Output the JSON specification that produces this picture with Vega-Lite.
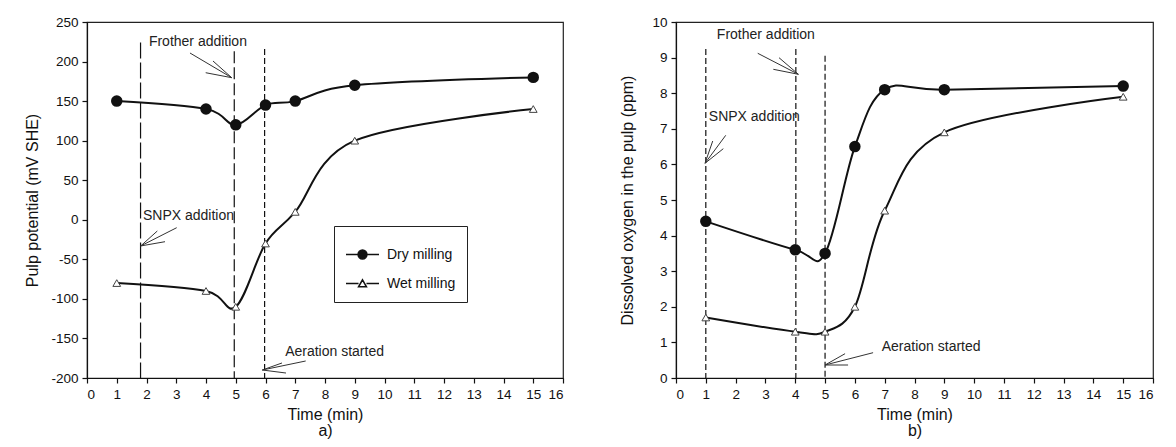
{
  "$schema": "https://vega.github.io/schema/vega-lite/v6.json",
  "background": "white",
  "padding": {"left": 24, "top": 14, "right": 5, "bottom": 5},
  "spacing": 54,
  "datasets": {
    "a": [
      {"series": "Dry milling", "t": 1, "v": 150},
      {"series": "Dry milling", "t": 4, "v": 140},
      {"series": "Dry milling", "t": 5, "v": 120},
      {"series": "Dry milling", "t": 6, "v": 145},
      {"series": "Dry milling", "t": 7, "v": 150},
      {"series": "Dry milling", "t": 9, "v": 170},
      {"series": "Dry milling", "t": 15, "v": 180},
      {"series": "Wet milling", "t": 1, "v": -80},
      {"series": "Wet milling", "t": 4, "v": -90},
      {"series": "Wet milling", "t": 5, "v": -110},
      {"series": "Wet milling", "t": 6, "v": -30},
      {"series": "Wet milling", "t": 7, "v": 10},
      {"series": "Wet milling", "t": 9, "v": 100},
      {"series": "Wet milling", "t": 15, "v": 140}
    ],
    "b": [
      {"series": "Dry milling", "t": 1, "v": 4.4},
      {"series": "Dry milling", "t": 4, "v": 3.6},
      {"series": "Dry milling", "t": 5, "v": 3.5},
      {"series": "Dry milling", "t": 6, "v": 6.5},
      {"series": "Dry milling", "t": 7, "v": 8.1},
      {"series": "Dry milling", "t": 9, "v": 8.1},
      {"series": "Dry milling", "t": 15, "v": 8.2},
      {"series": "Wet milling", "t": 1, "v": 1.7},
      {"series": "Wet milling", "t": 4, "v": 1.3},
      {"series": "Wet milling", "t": 5, "v": 1.3},
      {"series": "Wet milling", "t": 6, "v": 2.0},
      {"series": "Wet milling", "t": 7, "v": 4.7},
      {"series": "Wet milling", "t": 9, "v": 6.9},
      {"series": "Wet milling", "t": 15, "v": 7.9}
    ],
    "vA": [
      {"id": "l1", "t": 1.8, "v": 224},
      {"id": "l2", "t": 4.95, "v": 213},
      {"id": "l3", "t": 5.97, "v": 216}
    ],
    "vB": [
      {"id": "l1", "t": 1, "v": 9.24},
      {"id": "l2", "t": 4.02, "v": 9.24},
      {"id": "l3", "t": 5, "v": 9.05}
    ],
    "arrA": [
      {"t": 3.462, "v": 210.8, "t2": 4.864, "v2": 179.6},
      {"t": 3.99, "v": 185.9, "t2": 4.864, "v2": 179.6},
      {"t": 4.235, "v": 200.7, "t2": 4.864, "v2": 179.6},
      {"t": 3.015, "v": -10, "t2": 1.805, "v2": -33.1},
      {"t": 2.363, "v": -14.2, "t2": 1.805, "v2": -33.1},
      {"t": 2.622, "v": -27.7, "t2": 1.805, "v2": -33.1},
      {"t": 7.351, "v": -178.5, "t2": 5.893, "v2": -189.9},
      {"t": 6.689, "v": -193.7, "t2": 5.893, "v2": -189.9},
      {"t": 6.555, "v": -181, "t2": 5.893, "v2": -189.9}
    ],
    "arrB": [
      {"t": 2.742, "v": 9.121, "t2": 4.104, "v2": 8.531},
      {"t": 3.456, "v": 8.997, "t2": 4.104, "v2": 8.531},
      {"t": 3.265, "v": 8.671, "t2": 4.104, "v2": 8.531},
      {"t": 1.668, "v": 6.817, "t2": 0.973, "v2": 6.031},
      {"t": 1.232, "v": 6.657, "t2": 0.973, "v2": 6.031},
      {"t": 1.587, "v": 6.441, "t2": 0.973, "v2": 6.031},
      {"t": 6.611, "v": 0.711, "t2": 5.0, "v2": 0.365},
      {"t": 5.772, "v": 0.365, "t2": 5.0, "v2": 0.365},
      {"t": 5.671, "v": 0.683, "t2": 5.0, "v2": 0.365}
    ],
    "nA": [
      {"label": "Frother addition", "t": 2.08, "v": 225},
      {"label": "SNPX addition", "t": 1.88, "v": 5},
      {"label": "Aeration started", "t": 6.66, "v": -167}
    ],
    "nB": [
      {"label": "Frother addition", "t": 1.37, "v": 9.63},
      {"label": "SNPX addition", "t": 1.1, "v": 7.33},
      {"label": "Aeration started", "t": 6.9, "v": 0.88}
    ]
  },
  "config": {
    "font": "Liberation Sans",
    "view": {"stroke": "#222", "strokeWidth": 1.2},
    "axis": {
      "grid": false,
      "domainColor": "#111",
      "tickColor": "#111",
      "labelColor": "#111",
      "titleColor": "#111",
      "labelFont": "Liberation Sans",
      "titleFont": "Liberation Sans",
      "labelFontSize": 13.5,
      "titleFontSize": 16,
      "titleFontWeight": "normal",
      "tickSize": 5,
      "labelPadding": 4,
      "domainWidth": 1.2,
      "tickWidth": 1.2,
      "labelExpr": "'' + datum.value"
    },
    "legend": {
      "labelFont": "Liberation Sans",
      "labelFontSize": 14,
      "labelColor": "#111",
      "strokeColor": "#222",
      "fillColor": "white",
      "padding": 11,
      "rowPadding": 4,
      "labelOffset": 7,
      "symbolSize": 1089,
      "symbolStrokeWidth": 1.5,
      "symbolStrokeColor": "#111"
    }
  },
  "hconcat": [
    {
      "width": 476,
      "height": 356,
      "encoding": {
        "x": {"field": "t", "type": "quantitative", "scale": {"domain": [0, 16], "nice": false},
              "axis": {"values": [0,1,2,3,4,5,6,7,8,9,10,11,12,13,14,15,16], "title": ["Time (min)", "a)"], "titleLineHeight": 16, "titlePadding": 6}},
        "y": {"field": "v", "type": "quantitative", "scale": {"domain": [-200, 250], "nice": false},
              "axis": {"values": [-200,-150,-100,-50,0,50,100,150,200,250], "title": "Pulp potential (mV SHE)", "titlePadding": 10}}
      },
      "layer": [
        {
          "data": {"name": "vA"},
          "mark": {"type": "rule", "color": "#111", "strokeWidth": 1.2},
          "encoding": {
            "y2": {"datum": -200},
            "strokeDash": {"field": "id", "type": "nominal", "scale": {"range": [[16, 4], [12, 4], [6, 3]]}, "legend": null}
          }
        },
        {
          "data": {"name": "a"},
          "mark": {"type": "line", "interpolate": "cardinal", "color": "#111", "strokeWidth": 2},
          "encoding": {"detail": {"field": "series", "type": "nominal"}}
        },
        {
          "data": {"name": "a"},
          "transform": [{"filter": "datum.series === 'Dry milling'"}],
          "mark": {"type": "point", "shape": "circle", "filled": true, "fill": "#111", "stroke": "#111", "size": 90, "opacity": 1}
        },
        {
          "data": {"name": "a"},
          "transform": [{"filter": "datum.series === 'Wet milling'"}],
          "mark": {"type": "point", "shape": "triangle-up", "filled": true, "fill": "white", "stroke": "#444", "strokeWidth": 1, "size": 60, "opacity": 1}
        },
        {
          "data": {"name": "arrA"},
          "mark": {"type": "rule", "color": "#333", "strokeWidth": 1},
          "encoding": {"x2": {"field": "t2"}, "y2": {"field": "v2"}}
        },
        {
          "data": {"name": "nA"},
          "mark": {"type": "text", "align": "left", "baseline": "middle", "fontSize": 14, "font": "Liberation Sans", "color": "#222"},
          "encoding": {"text": {"field": "label", "type": "nominal"}}
        },
        {
          "data": {"name": "a"},
          "transform": [{"filter": "false"}],
          "mark": {"type": "point", "filled": true, "strokeWidth": 1.5, "opacity": 1},
          "encoding": {
            "shape": {"field": "series", "type": "nominal",
                      "scale": {"domain": ["Dry milling", "Wet milling"], "range": ["M-1,0L1,0M0.27,0A0.27,0.27,0,1,1,-0.27,0A0.27,0.27,0,1,1,0.27,0Z", "M-1,0L-0.24,0M0.24,0L1,0M0,-0.22L0.24,0.2L-0.24,0.2Z"]},
                      "legend": {"title": null, "orient": "none", "legendX": 247, "legendY": 204}},
            "fill": {"field": "series", "type": "nominal",
                     "scale": {"domain": ["Dry milling", "Wet milling"], "range": ["#111", "white"]},
                     "legend": {"title": null, "orient": "none", "legendX": 247, "legendY": 204}},
            "stroke": {"field": "series", "type": "nominal",
                     "scale": {"domain": ["Dry milling", "Wet milling"], "range": ["#111", "#111"]},
                     "legend": {"title": null, "orient": "none", "legendX": 247, "legendY": 204}}
          }
        }
      ]
    },
    {
      "width": 477,
      "height": 356,
      "encoding": {
        "x": {"field": "t", "type": "quantitative", "scale": {"domain": [0, 16], "nice": false},
              "axis": {"values": [0,1,2,3,4,5,6,7,8,9,10,11,12,13,14,15,16], "title": ["Time (min)", "b)"], "titleLineHeight": 16, "titlePadding": 6}},
        "y": {"field": "v", "type": "quantitative", "scale": {"domain": [0, 10], "nice": false},
              "axis": {"values": [0,1,2,3,4,5,6,7,8,9,10], "title": "Dissolved oxygen in the pulp (ppm)", "titlePadding": 16}}
      },
      "layer": [
        {
          "data": {"name": "vB"},
          "mark": {"type": "rule", "color": "#111", "strokeWidth": 1.2, "strokeDash": [6, 3]},
          "encoding": {"y2": {"datum": 0}}
        },
        {
          "data": {"name": "b"},
          "mark": {"type": "line", "interpolate": "cardinal", "color": "#111", "strokeWidth": 2},
          "encoding": {"detail": {"field": "series", "type": "nominal"}}
        },
        {
          "data": {"name": "b"},
          "transform": [{"filter": "datum.series === 'Dry milling'"}],
          "mark": {"type": "point", "shape": "circle", "filled": true, "fill": "#111", "stroke": "#111", "size": 90, "opacity": 1}
        },
        {
          "data": {"name": "b"},
          "transform": [{"filter": "datum.series === 'Wet milling'"}],
          "mark": {"type": "point", "shape": "triangle-up", "filled": true, "fill": "white", "stroke": "#444", "strokeWidth": 1, "size": 60, "opacity": 1}
        },
        {
          "data": {"name": "arrB"},
          "mark": {"type": "rule", "color": "#333", "strokeWidth": 1},
          "encoding": {"x2": {"field": "t2"}, "y2": {"field": "v2"}}
        },
        {
          "data": {"name": "nB"},
          "mark": {"type": "text", "align": "left", "baseline": "middle", "fontSize": 14, "font": "Liberation Sans", "color": "#222"},
          "encoding": {"text": {"field": "label", "type": "nominal"}}
        },
        {
          "data": {"name": "b"},
          "transform": [{"filter": "false"}],
          "mark": {"type": "point", "filled": true, "strokeWidth": 1.5, "opacity": 1},
          "encoding": {
            "shape": {"field": "series", "type": "nominal",
                      "scale": {"domain": ["Dry milling", "Wet milling"], "range": ["M-1,0L1,0M0.27,0A0.27,0.27,0,1,1,-0.27,0A0.27,0.27,0,1,1,0.27,0Z", "M-1,0L-0.24,0M0.24,0L1,0M0,-0.22L0.24,0.2L-0.24,0.2Z"]},
                      "legend": {"title": null, "orient": "none", "legendX": 257, "legendY": 212}},
            "fill": {"field": "series", "type": "nominal",
                     "scale": {"domain": ["Dry milling", "Wet milling"], "range": ["#111", "white"]},
                     "legend": {"title": null, "orient": "none", "legendX": 257, "legendY": 212}},
            "stroke": {"field": "series", "type": "nominal",
                     "scale": {"domain": ["Dry milling", "Wet milling"], "range": ["#111", "#111"]},
                     "legend": {"title": null, "orient": "none", "legendX": 257, "legendY": 212}}
          }
        }
      ]
    }
  ]
}
